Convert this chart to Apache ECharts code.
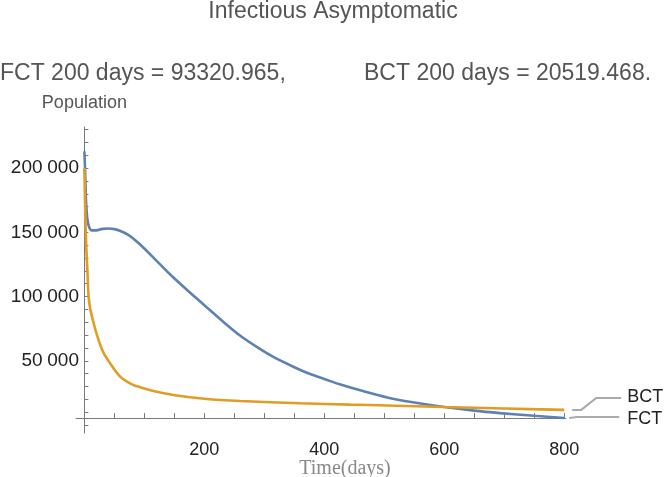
<!DOCTYPE html>
<html>
<head>
<meta charset="utf-8">
<script src="https://cdn.jsdelivr.net/npm/echarts@6/dist/echarts.min.js"></script>
<style>
html,body{margin:0;padding:0;background:#fff;}
#c{width:666px;height:477px;}
</style>
</head>
<body>
<div id="c"></div>
<script>
// ---- data ----
const titleText = 'Infectious Asymptomatic';
const subLeft = 'FCT 200 days = 93320.965,';
const subRight = 'BCT 200 days = 20519.468.';
const seriesNames = ['FCT', 'BCT'];

const fctDays = [0, 1, 2, 3, 5, 8, 12, 20, 30, 40, 50, 60, 75, 93, 120, 148, 175, 200, 230, 260, 290, 315, 350, 372, 405, 427, 460, 505, 550, 600, 650, 693, 750, 800];
const fctValues = [213000, 200000, 185000, 172000, 160000, 154000, 151500, 151500, 152700, 153000, 152500, 151000, 147500, 140500, 128000, 115000, 103500, 93300, 81000, 69500, 60000, 53000, 45000, 40500, 35000, 31500, 27000, 21500, 17500, 14000, 11200, 9300, 7200, 5450];

const bctDays = [0, 1, 2, 3, 5, 7, 10, 15, 21, 30, 40, 60, 82, 93, 110, 148, 200, 260, 360, 443, 505, 600, 700, 800];
const bctValues = [200000, 175000, 155000, 140000, 120000, 100000, 90000, 80000, 70000, 58000, 50000, 37500, 31000, 29500, 27000, 23400, 20500, 18700, 17000, 15900, 15200, 14000, 12900, 11800];

const xLabelValues = [200, 400, 600, 800];
const xTickValues = [50, 100, 150, 200, 250, 300, 350, 400, 450, 500, 550, 600, 650, 700, 750, 800];
const yLabelValues = [50000, 100000, 150000, 200000];
const yTickValues = [0, 10000, 20000, 30000, 40000, 50000, 60000, 70000, 80000, 90000, 100000, 110000, 120000, 130000, 140000, 150000, 160000, 170000, 180000, 190000, 200000, 210000, 220000, 230000];

const xMin = -14, xMax = 803;
const yMin = -6200, yMax = 232000;
const xAxisCross = 5450; // value where the time axis crosses

// ---- chart ----
const FONT = '"Liberation Sans", Arial, sans-serif';
const BLUE = '#5E81B5', ORANGE = '#E19C24';
const AXIS = '#7a7a7a';

const chart = echarts.init(document.getElementById('c'), null, {renderer: 'canvas'});

function fmt(v) {
  const s = String(v);
  if (s.length > 3) return s.slice(0, s.length - 3) + '\u2005' + s.slice(-3);
  return s;
}

const option = {
  backgroundColor: '#ffffff',
  animation: false,
  title: [
    {text: titleText, left: 'center', top: 0, padding: 0,
     textStyle: {fontFamily: FONT, fontSize: 23, fontWeight: 'normal', color: '#555555'}},
    {text: subLeft, left: 0, top: 62, padding: 0,
     textStyle: {fontFamily: FONT, fontSize: 23, fontWeight: 'normal', color: '#555555'}},
    {text: subRight, left: 364, top: 62, padding: 0,
     textStyle: {fontFamily: FONT, fontSize: 23, fontWeight: 'normal', color: '#555555'}}
  ],
  grid: {left: 76, right: 100, top: 127, bottom: 44, containLabel: false, outerBoundsMode: 'none'},
  xAxis: {
    type: 'value', min: xMin, max: xMax,
    name: 'Time(days)', nameLocation: 'middle', nameGap: 26, nameMoveOverlap: false,
    nameTextStyle: {fontFamily: '"Liberation Serif", "Times New Roman", serif', fontSize: 20, color: '#888888',
                    padding: [0, 0, 0, 48]},
    axisLine: {show: true, onZero: true, onZeroAxisIndex: 1, lineStyle: {color: AXIS, width: 1}},
    axisTick: {show: true, inside: true, length: 5, customValues: xTickValues, lineStyle: {color: AXIS}},
    axisLabel: {customValues: xLabelValues, margin: 8, fontFamily: FONT, fontSize: 18, color: '#222222'},
    splitLine: {show: false}
  },
  yAxis: [
    {
      type: 'value', min: yMin, max: yMax,
      name: 'Population', nameLocation: 'end', nameGap: 15,
      nameTextStyle: {fontFamily: FONT, fontSize: 18, color: '#555555', align: 'center'},
      axisLine: {show: true, onZero: true, lineStyle: {color: AXIS, width: 1}},
      axisTick: {show: true, inside: true, length: 4, customValues: yTickValues, lineStyle: {color: AXIS}},
      axisLabel: {customValues: yLabelValues, margin: -3, fontFamily: FONT, fontSize: 19, color: '#222222',
                  formatter: v => fmt(v)},
      splitLine: {show: false}
    },
    {
      type: 'value', min: yMin - xAxisCross, max: yMax - xAxisCross, show: false,
      axisLine: {onZero: false}
    }
  ],
  series: [
    {
      name: seriesNames[0], type: 'line', yAxisIndex: 0,
      data: fctDays.map((d, i) => [d, fctValues[i]]),
      showSymbol: false, smooth: 0.3,
      lineStyle: {color: BLUE, width: 2.6}, itemStyle: {color: BLUE}, z: 3
    },
    {
      name: seriesNames[1], type: 'line', yAxisIndex: 0,
      data: bctDays.map((d, i) => [d, bctValues[i]]),
      showSymbol: false, smooth: 0.3,
      lineStyle: {color: ORANGE, width: 2.6}, itemStyle: {color: ORANGE}, z: 4
    }
  ]
};
chart.setOption(option);

// callout labels attached to the series end points
const lastF = chart.convertToPixel({seriesIndex: 0}, [fctDays[fctDays.length - 1], fctValues[fctValues.length - 1]]);
const lastB = chart.convertToPixel({seriesIndex: 1}, [bctDays[bctDays.length - 1], bctValues[bctValues.length - 1]]);
const CALL = '#aaaaaa';
const bUp = lastB[1] - 12;
chart.setOption({
  graphic: [
    {type: 'polyline', shape: {points: [[lastB[0] + 8, lastB[1]], [lastB[0] + 17, lastB[1]], [lastB[0] + 32, bUp], [lastB[0] + 57, bUp]]},
     style: {stroke: CALL, lineWidth: 2, fill: null}},
    {type: 'text', left: lastB[0] + 63, top: bUp - 10,
     style: {text: seriesNames[1], font: '18px ' + FONT, fill: '#222222'}},
    {type: 'polyline', shape: {points: [[lastF[0] + 5, lastF[1]], [lastF[0] + 13, lastF[1] - 1], [lastF[0] + 55, lastF[1] - 1]]},
     style: {stroke: CALL, lineWidth: 2, fill: null}},
    {type: 'text', left: lastF[0] + 63, top: lastF[1] - 8,
     style: {text: seriesNames[0], font: '18px ' + FONT, fill: '#222222'}}
  ]
});
</script>
</body>
</html>
